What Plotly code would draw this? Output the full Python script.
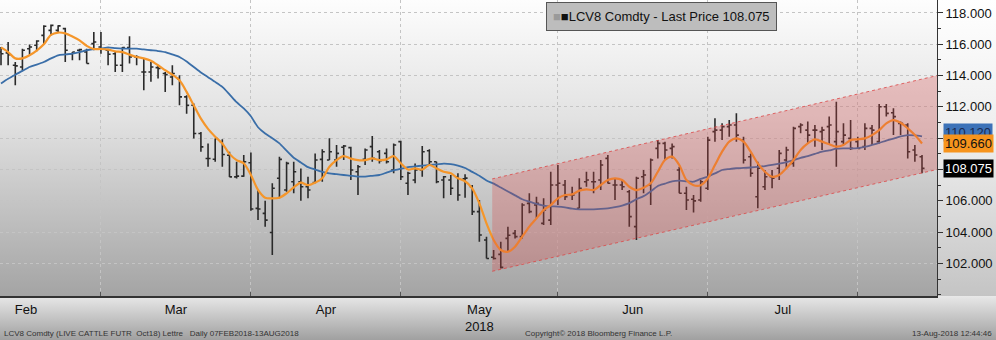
import base64
import pandas as pd
import plotly.graph_objects as go

# ---------------- data ----------------
holidays = ["2018-02-19", "2018-03-30", "2018-05-28", "2018-07-04"]
dates = [d for d in pd.bdate_range("2018-02-07", "2018-08-13") if d.strftime("%Y-%m-%d") not in holidays]
day_idx = list(range(len(dates)))

opens = [115.51, 115.45, 114.66, 114.55, 115.72, 115.94, 116.57, 116.89, 116.89, 117.00,
         115.40, 115.62, 115.51, 116.04, 115.83, 115.62, 115.40, 114.66, 115.79, 115.19,
         114.23, 114.23, 114.51, 114.13, 113.91, 113.81, 112.64, 112.11, 110.30, 108.70,
         108.66, 109.77, 108.91, 107.53, 107.58, 108.43, 105.52, 105.20, 103.98, 107.44,
         106.69, 107.22, 107.22, 106.90, 107.16, 108.65, 108.61, 108.61, 109.42, 109.40,
         107.86, 108.65, 109.46, 109.14, 109.03, 107.97, 109.78, 107.12, 107.33, 107.97,
         109.20, 108.50, 107.33, 107.33, 107.54, 107.40, 106.90, 105.31, 103.50, 102.40,
         102.58, 103.60, 103.92, 103.71, 105.84, 105.73, 104.56, 104.77, 107.01, 107.01,
         106.37, 105.52, 107.22, 107.22, 107.33, 108.71, 107.01, 107.01, 106.58, 104.35,
         107.54, 107.01, 109.35, 109.67, 109.35, 107.97, 106.48, 106.10, 106.05, 106.80,
         110.42, 110.52, 110.74, 110.84, 109.88, 108.82, 106.26, 106.90, 107.54, 108.08,
         108.61, 108.39, 110.74, 110.52, 110.52, 110.42, 110.74, 109.78, 109.78, 109.99,
         109.78, 109.46, 110.63, 109.78, 112.01, 111.63, 110.95, 110.84, 109.25, 108.82]
highs = [115.83, 116.15, 114.87, 115.72, 115.98, 116.26, 117.21, 117.26, 117.21, 117.06,
         115.51, 115.72, 115.72, 116.79, 116.79, 115.72, 115.51, 115.83, 116.51, 115.30,
         115.13, 114.87, 114.66, 114.23, 114.66, 114.02, 112.74, 112.21, 110.40, 109.66,
         109.98, 109.94, 109.13, 108.49, 108.93, 109.08, 106.69, 106.01, 107.12, 108.82,
         108.50, 108.50, 108.07, 107.54, 109.03, 109.29, 109.99, 109.57, 109.57, 109.46,
         108.29, 109.35, 110.14, 109.25, 109.35, 109.67, 109.84, 107.86, 108.39, 109.50,
         109.29, 108.50, 107.58, 107.65, 107.76, 107.70, 107.01, 106.05, 103.71, 102.86,
         103.39, 104.35, 104.13, 105.84, 106.48, 106.26, 106.16, 107.86, 108.29, 107.33,
         106.90, 107.44, 107.86, 107.86, 108.61, 108.93, 107.44, 107.33, 106.69, 107.54,
         107.97, 108.71, 109.88, 109.78, 109.67, 108.18, 106.90, 106.37, 107.33, 110.10,
         111.27, 110.95, 111.16, 111.59, 110.10, 109.03, 108.50, 107.97, 107.97, 109.25,
         109.46, 110.74, 110.95, 111.06, 110.84, 110.74, 111.38, 112.33, 110.95, 111.16,
         110.10, 110.95, 110.84, 112.19, 112.19, 111.91, 111.06, 110.95, 109.57, 108.93]
lows = [114.66, 114.66, 113.38, 114.34, 115.34, 115.55, 116.00, 116.57, 116.79, 114.87,
        114.98, 114.98, 114.77, 115.62, 115.40, 114.66, 114.23, 114.23, 114.77, 114.66,
        113.06, 113.60, 113.81, 112.96, 113.38, 112.11, 111.57, 109.98, 109.13, 108.17,
        108.49, 108.17, 107.53, 107.43, 107.54, 105.37, 104.77, 104.35, 102.54, 106.16,
        106.58, 106.48, 106.01, 106.16, 107.12, 107.22, 108.61, 108.18, 108.61, 107.33,
        106.37, 108.29, 108.50, 108.39, 108.39, 107.76, 107.33, 106.37, 107.12, 107.54,
        108.29, 107.12, 106.16, 106.37, 106.01, 106.20, 105.09, 103.39, 102.32, 102.25,
        101.68, 102.75, 103.60, 103.60, 105.20, 104.88, 104.45, 104.45, 105.73, 106.05,
        106.05, 105.52, 106.90, 106.48, 106.69, 107.10, 106.05, 106.69, 104.35, 103.50,
        106.48, 105.73, 108.71, 108.61, 108.71, 106.48, 105.41, 105.25, 105.94, 106.69,
        109.78, 109.88, 110.10, 109.78, 108.39, 107.54, 105.52, 106.69, 106.80, 107.33,
        108.08, 108.18, 110.31, 109.67, 109.46, 109.25, 109.57, 108.18, 109.57, 109.25,
        109.35, 109.25, 109.57, 109.67, 111.38, 110.20, 110.20, 108.71, 108.50, 107.76]
closes = [115.40, 115.34, 114.62, 115.62, 115.83, 116.21, 117.15, 117.21, 117.18, 115.62,
          115.51, 115.66, 114.77, 116.15, 115.72, 115.36, 114.66, 115.79, 115.19, 115.19,
          114.23, 114.55, 114.45, 114.06, 114.13, 112.64, 112.11, 110.30, 109.45, 108.70,
          109.98, 108.96, 107.53, 107.58, 108.50, 105.48, 105.48, 104.77, 106.80, 108.65,
          108.39, 107.86, 106.90, 106.69, 108.61, 109.14, 109.14, 109.03, 109.50, 107.97,
          108.18, 109.25, 108.71, 108.56, 108.50, 109.57, 107.54, 107.76, 107.97, 109.14,
          108.50, 107.22, 107.54, 106.80, 106.37, 107.45, 105.31, 103.82, 102.32, 102.32,
          101.75, 103.80, 103.71, 105.73, 105.31, 105.84, 105.41, 107.01, 107.12, 106.26,
          106.37, 106.80, 107.33, 107.22, 108.29, 107.12, 107.01, 106.90, 104.99, 107.44,
          107.65, 108.61, 109.67, 109.25, 109.46, 106.48, 106.05, 106.00, 107.22, 109.88,
          110.52, 110.74, 110.84, 110.20, 108.61, 107.76, 108.08, 107.54, 107.44, 109.03,
          109.25, 110.63, 110.84, 110.20, 110.52, 110.52, 110.84, 110.42, 110.20, 109.35,
          109.35, 110.63, 110.52, 112.01, 111.59, 111.38, 110.95, 109.14, 108.93, 108.075]

ma_fast = [115.8, 115.5, 115.1, 115.1, 115.3, 115.6, 116.0, 116.6, 116.75, 116.7,
           116.5, 116.25, 115.9, 115.7, 115.7, 115.66, 115.55, 115.5, 115.34, 115.19,
           115.1, 114.95, 114.66, 114.34, 114.06, 113.7, 112.96, 112.1, 111.25, 110.6,
           110.1, 109.66, 109.0, 108.6, 108.4, 107.65, 106.7, 106.2, 106.16, 106.2,
           106.48, 106.86, 107.16, 107.0, 107.16, 107.44, 108.18, 108.6, 108.86, 108.7,
           108.6, 108.6, 108.71, 108.6, 108.65, 108.86, 108.4, 108.0, 108.07, 108.0,
           108.29, 108.07, 107.86, 107.76, 107.44, 107.25, 106.8, 105.84, 104.56, 103.5,
           102.86, 102.75, 103.07, 103.71, 104.35, 104.88, 105.41, 105.73, 106.16, 106.37,
           106.41, 106.65, 106.73, 106.69, 107.01, 107.33, 107.44, 107.33, 106.9, 106.69,
           106.84, 107.12, 107.86, 108.61, 108.82, 108.29, 107.33, 107.0, 107.0, 107.44,
           108.29, 109.14, 109.78, 109.99, 109.78, 109.14, 108.39, 107.86, 107.54, 107.65,
           108.08, 108.61, 109.25, 109.67, 109.93, 109.78, 109.61, 109.46, 109.57, 109.88,
           109.93, 109.99, 110.2, 110.52, 110.95, 111.16, 110.99, 110.63, 110.2, 109.66]
ma_slow = [113.5, 113.8, 114.06, 114.3, 114.55, 114.7, 114.87, 115.1, 115.3, 115.35,
           115.4, 115.5, 115.62, 115.7, 115.72, 115.8, 115.75, 115.72, 115.72, 115.72,
           115.67, 115.62, 115.57, 115.5, 115.35, 115.19, 114.9, 114.55, 114.2, 113.9,
           113.6, 113.28, 112.8, 112.3, 111.9, 111.4, 110.7, 110.3, 110.0, 109.67,
           109.2, 108.75, 108.45, 108.15, 108.0, 107.85, 107.75, 107.7, 107.65, 107.6,
           107.55, 107.55, 107.6, 107.65, 107.8, 107.95, 108.05, 108.15, 108.2, 108.25,
           108.29, 108.33, 108.38, 108.35, 108.25, 108.1, 107.85, 107.6, 107.3, 107.1,
           106.85, 106.6, 106.35, 106.1, 105.95, 105.8, 105.7, 105.65, 105.63, 105.58,
           105.5, 105.46, 105.46, 105.46, 105.48, 105.52, 105.6, 105.7, 105.85, 106.1,
           106.3, 106.6, 106.95, 107.1, 107.25, 107.29, 107.25, 107.22, 107.4, 107.55,
           107.75, 107.97, 108.03, 108.08, 108.1, 108.13, 108.17, 108.22, 108.29, 108.38,
           108.48, 108.6, 108.75, 108.85, 109.0, 109.14, 109.22, 109.33, 109.35, 109.35,
           109.37, 109.45, 109.57, 109.7, 109.85, 109.98, 110.12, 110.2, 110.18, 110.12]

channel_days = [68.8, 131.1]
channel_lower = [101.5, 108.0]
channel_upper = [107.4, 114.0]

y_ticks = [102, 104, 106, 108, 110, 112, 114, 116, 118]
month_names = {2: "Feb", 3: "Mar", 4: "Apr", 5: "May<br>2018", 6: "Jun", 7: "Jul"}

assert len(dates) == len(opens) == len(highs) == len(lows) == len(closes) == len(ma_fast) == len(ma_slow) == 130

# month boundaries (grid on last trading day of previous month) and label centres
months = pd.Series([d.month for d in dates])
firsts = {m: int(months[months == m].index[0]) for m in months.unique()}
lasts = {m: int(months[months == m].index[-1]) for m in months.unique()}
boundaries = [firsts[m] - 1 for m in months.unique() if m != 2]
centers, labels = [], []
for m, name in month_names.items():
    start = firsts[m] - 1 if m != 2 else -7
    centers.append((start + lasts[m]) / 2)
    labels.append(name)

# ---------------- figure ----------------
W, H = 996, 340
ML, MR, MT, MB = 0, 59, 0, 44
pw, ph = W - ML - MR, H - MT - MB
x_range = [-0.14, 131.1]
y_range = [99.92, 118.83]
px_per_day = pw / (x_range[1] - x_range[0])

svg = f'''<svg xmlns="http://www.w3.org/2000/svg" width="{W}" height="{H}" viewBox="0 0 {W} {H}" preserveAspectRatio="none">
<defs>
<linearGradient id="p" x1="0" y1="0" x2="0" y2="1"><stop offset="0" stop-color="#fdfdfd"/><stop offset="0.4" stop-color="#e2e2e2"/><stop offset="1" stop-color="#a4a4a4"/></linearGradient>
<linearGradient id="r" x1="0" y1="0" x2="0" y2="1"><stop offset="0" stop-color="#ffffff"/><stop offset="0.5" stop-color="#ececec"/><stop offset="1" stop-color="#c4c4c4"/></linearGradient>
<linearGradient id="f" x1="0" y1="0" x2="0" y2="1"><stop offset="0" stop-color="#e8e8e8"/><stop offset="1" stop-color="#a0a0a0"/></linearGradient>
</defs>
<rect x="0" y="0" width="{pw}" height="{ph}" fill="url(#p)"/>
<rect x="{pw}" y="0" width="{MR}" height="{ph}" fill="url(#r)"/>
<rect x="0" y="{ph}" width="{W}" height="{MB}" fill="url(#f)"/>
</svg>'''
bg_src = "data:image/svg+xml;base64," + base64.b64encode(svg.encode()).decode()

bar_color = "#2a2a2a"
fig = go.Figure()
fig.add_trace(go.Ohlc(
    x=day_idx, open=opens, high=highs, low=lows, close=closes,
    increasing=dict(line=dict(color=bar_color, width=1.6)),
    decreasing=dict(line=dict(color=bar_color, width=1.6)),
    tickwidth=0.35, hoverinfo="skip", showlegend=False))
fig.add_trace(go.Scatter(x=day_idx, y=ma_slow, mode="lines", line=dict(color="#3a6ea8", width=1.8, shape="spline", smoothing=0.6), showlegend=False, hoverinfo="skip"))
fig.add_trace(go.Scatter(x=day_idx, y=ma_fast, mode="lines", line=dict(color="#f5962a", width=2.2, shape="spline", smoothing=0.8), showlegend=False, hoverinfo="skip"))
# trend channel
fig.add_trace(go.Scatter(
    x=[channel_days[0], channel_days[1], channel_days[1], channel_days[0]],
    y=[channel_lower[0], channel_lower[1], channel_upper[1], channel_upper[0]],
    fill="toself", fillcolor="rgba(215,70,70,0.28)", mode="none", showlegend=False, hoverinfo="skip"))
for edge in (channel_lower, channel_upper):
    fig.add_trace(go.Scatter(x=channel_days, y=edge, mode="lines",
                             line=dict(color="rgba(220,70,70,0.8)", width=1, dash="dot"),
                             showlegend=False, hoverinfo="skip"))

# right-axis value tags: pointer triangles + boxes
tag_specs = [(ma_slow[-1], "#3c72b8", "#1a2a50", 4), (ma_fast[-1], "#f7941d", "#111", 0), (closes[-1], "#000000", "#ffffff", 0)]
tip_x = x_range[1] + 3.5 / px_per_day
for val, bg, fg, ysh in tag_specs:
    fig.add_trace(go.Scatter(x=[tip_x], y=[val], mode="markers", cliponaxis=False,
                             marker=dict(symbol="triangle-left", size=9, color=bg, line=dict(width=0)),
                             showlegend=False, hoverinfo="skip"))

font_main = "Liberation Sans"
fig.update_layout(
    width=W, height=H, margin=dict(l=ML, r=MR, t=MT, b=MB),
    paper_bgcolor="rgba(0,0,0,0)", plot_bgcolor="rgba(0,0,0,0)",
    font=dict(family=font_main, size=13, color="#111"),
    showlegend=False,
    images=[dict(source=bg_src, xref="paper", yref="paper", x=0, y=1,
                 sizex=W / pw, sizey=H / ph, xanchor="left", yanchor="top",
                 sizing="stretch", layer="below")],
    xaxis=dict(range=x_range, rangeslider=dict(visible=False),
               tickmode="array", tickvals=centers, ticktext=labels, ticks="",
               showgrid=False, zeroline=False, showline=True, linecolor="#333", linewidth=2,
               tickfont=dict(size=13, color="#111"),
               minor=dict(tickmode="array", tickvals=boundaries, ticks="inside", ticklen=4,
                          tickcolor="#555", showgrid=True, gridcolor="#c4c4c4", griddash="dot", gridwidth=1)),
    yaxis=dict(range=y_range, side="right", tickmode="array", tickvals=y_ticks,
               ticktext=[f"{v:.3f}" for v in y_ticks], ticks="outside", ticklen=5, tickcolor="#333",
               showgrid=True, gridcolor="#c4c4c4", griddash="dot", gridwidth=1,
               zeroline=False, showline=True, linecolor="#333", linewidth=1,
               tickfont=dict(size=13, color="#111"),
               minor=dict(dtick=1, ticks="outside", ticklen=3, tickcolor="#333", showgrid=False)),
)

# legend box
fig.add_annotation(xref="paper", yref="paper", x=661.5 / pw, y=1 - 16.5 / ph, xanchor="center", yanchor="middle",
                   text='<span style="color:#9a9a9a">■</span>■LCV8 Comdty - Last Price ' + f"{closes[-1]:.3f}",
                   showarrow=False, bgcolor="#bdbdbd", bordercolor="#555", borderwidth=1, borderpad=6,
                   font=dict(family=font_main, size=13, color="#111"))

for val, bg, fg, ysh in tag_specs:
    fig.add_annotation(xref="paper", yref="y", x=1, y=val, xanchor="left", yanchor="middle",
                       xshift=6, yshift=ysh, text=f"{val:.3f}", showarrow=False, bgcolor=bg, borderpad=1,
                       font=dict(family=font_main, size=13, color=fg))

# footer
foot_y = 1 - (333 - MT) / ph
foot_font = dict(family=font_main, size=8, color="#333")
fig.add_annotation(xref="paper", yref="paper", x=2 / pw, y=foot_y, xanchor="left", yanchor="middle", showarrow=False,
                   text="LCV8 Comdty (LIVE CATTLE FUTR  Oct18) Lettre   Daily 07FEB2018-13AUG2018", font=foot_font)
fig.add_annotation(xref="paper", yref="paper", x=523 / pw, y=foot_y, xanchor="left", yanchor="middle", showarrow=False,
                   text="Copyright© 2018 Bloomberg Finance L.P.", font=foot_font)
fig.add_annotation(xref="paper", yref="paper", x=994 / pw, y=foot_y, xanchor="right", yanchor="middle", showarrow=False,
                   text="13-Aug-2018 12:44:46", font=foot_font)

fig.write_html("out.html")
